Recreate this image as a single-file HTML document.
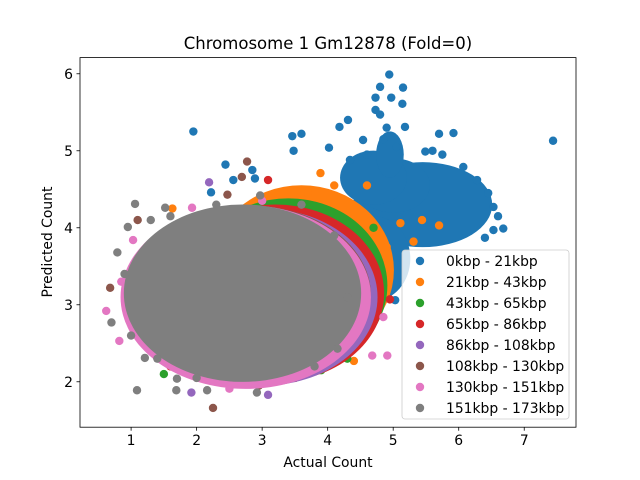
<!DOCTYPE html>
<html><head><meta charset="utf-8">
<style>
body{margin:0;background:#fff;}
svg{display:block;font-family:"DejaVu Sans","Liberation Sans",sans-serif;}
</style></head>
<body>
<svg id="chart" width="640" height="480" viewBox="0 0 640 480">
<rect width="640" height="480" fill="#fff"/>
<g id="marks"></g>
<g id="axes"></g>
<g id="legend"></g>
</svg>
<script>
const seriesNames = ["0kbp - 21kbp","21kbp - 43kbp","43kbp - 65kbp","65kbp - 86kbp","86kbp - 108kbp","108kbp - 130kbp","130kbp - 151kbp","151kbp - 173kbp"];
const colors = ["#1f77b4","#ff7f0e","#2ca02c","#d62728","#9467bd","#8c564b","#e377c2","#7f7f7f"];
const xTicks = [1,2,3,4,5,6,7];
const yTicks = [2,3,4,5,6];
// dense cores per series: [cx, cy, rx, ry] in data units
const core0 = [[5.45,4.3,1.0,0.5],[4.7,3.6,0.5,0.5],[5.0,4.55,0.5,0.3],[4.7,4.65,0.45,0.3],[4.95,4.95,0.15,0.25]];
const core1 = [[3.6,3.45,1.35,1.05]];
const core2 = [[3.4,3.25,1.45,1.08]];
const core3 = [[3.2,3.15,1.6,1.1]];
const core4 = [[3.0,3.1,1.7,1.1]];
const core5 = [[2.8,3.12,1.8,1.12]];
const core6 = [[2.75,3.1,1.85,1.14]];
const core7 = [[2.7,3.15,1.75,1.1]];
// individual points per series: [x, y]
const pts0 = [[4.94,5.99],[4.80,5.83],[5.15,5.82],[4.97,5.69],[4.73,5.69],[5.14,5.61],[4.73,5.53],[4.80,5.47],[1.95,5.25],[7.44,5.13],[4.31,5.40],[4.18,5.31],[3.46,5.19],[3.60,5.22],[3.48,5.00],[5.70,5.22],[5.92,5.23],[4.02,5.04],[2.44,4.82],[2.85,4.75],[2.89,4.64],[2.56,4.62],[2.22,4.46],[6.68,3.99],[6.53,3.97],[6.40,3.87],[5.49,4.99],[5.18,5.31],[5.03,3.06],[6.53,4.27],[6.28,4.62],[6.07,4.79],[4.34,4.88],[4.54,5.14],[5.6,5.0],[5.75,4.95],[6.6,4.15],[6.45,4.45],[4.6,4.95],[4.9,5.3],[4.85,5.15],[5.05,5.05]];
const pts1 = [[3.89,4.71],[5.44,4.10],[5.70,4.03],[4.40,2.27],[1.63,4.25],[5.11,4.06],[5.31,3.82],[4.6,4.55],[4.1,4.55],[3.7,4.45],[4.8,3.4],[4.9,3.75],[4.3,2.55]];
const pts2 = [[4.5,3.1],[4.6,3.5],[4.3,2.3],[3.9,2.15],[3.6,2.1],[1.5,2.1],[4.45,3.9],[4.7,4.0]];
const pts3 = [[3.09,4.62],[4.95,3.07],[4.5,2.9],[4.1,2.4],[3.5,2.05],[1.6,2.2],[4.6,3.3]];
const pts4 = [[2.19,4.59],[1.92,1.86],[3.09,1.83],[4.6,2.9],[1.2,2.5],[4.4,2.65]];
const pts5 = [[2.77,4.86],[2.69,4.66],[0.68,3.22],[2.25,1.66],[2.47,4.43],[1.1,4.1],[4.25,3.2],[2.95,1.95]];
const pts6 = [[0.62,2.92],[0.82,2.53],[4.85,2.84],[4.68,2.34],[4.91,2.34],[2.50,1.91],[1.93,4.26],[1.03,3.84],[4.15,3.65],[0.85,3.3],[3.0,4.35]];
const pts7 = [[1.06,4.31],[1.09,1.89],[1.69,1.89],[1.70,2.04],[2.16,1.89],[0.79,3.68],[0.95,4.01],[1.52,4.26],[4.15,2.43],[1.21,2.31],[2.92,1.86],[2.97,4.42],[0.70,2.77],[1.3,4.1],[0.9,3.4],[1.0,2.6],[1.6,4.15],[2.3,4.3],[3.6,4.3],[4.1,3.9],[4.3,3.1],[3.8,2.2],[1.4,2.3],[2.0,2.05]];
const cores = [core0,core1,core2,core3,core4,core5,core6,core7];
const points = [pts0,pts1,pts2,pts3,pts4,pts5,pts6,pts7];

const L=80,R=576,T=57.6,B=427.2;
const xMin=0.22,xMax=7.79,yMin=1.41,yMax=6.21;
const sx=v=>L+(v-xMin)/(xMax-xMin)*(R-L);
const sy=v=>B-(v-yMin)/(yMax-yMin)*(B-T);
const kx=(R-L)/(xMax-xMin), ky=(B-T)/(yMax-yMin);
const NS="http://www.w3.org/2000/svg";
function mk(tag,parent){const e=document.createElementNS(NS,tag);parent.appendChild(e);return e;}
const marks=document.getElementById('marks');
for(let s=0;s<8;s++){
  const g=mk('g',marks);
  
  
  g.setAttribute('fill',colors[s]);
  for(const c of cores[s]){
    const e=mk('ellipse',g);
    
    
    e.setAttribute('cx',sx(c[0]));e.setAttribute('cy',sy(c[1]));
    e.setAttribute('rx',c[2]*kx+4);e.setAttribute('ry',c[3]*ky+4);
  }
  for(const p of points[s]){
    const c=mk('circle',g);
    
    
    c.setAttribute('cx',sx(p[0]));c.setAttribute('cy',sy(p[1]));c.setAttribute('r',4.2);
  }
}
const axes=document.getElementById('axes');
const frame=mk('rect',axes);


frame.setAttribute('x',L);frame.setAttribute('y',T);frame.setAttribute('width',R-L);frame.setAttribute('height',B-T);
frame.setAttribute('fill','none');frame.setAttribute('stroke','#000');frame.setAttribute('stroke-width','0.8');
for(const t of xTicks){
  const l=mk('line',axes);
  
  
  l.setAttribute('x1',sx(t));l.setAttribute('x2',sx(t));l.setAttribute('y1',B);l.setAttribute('y2',B+3.5);l.setAttribute('stroke','#000');l.setAttribute('stroke-width','0.8');
  const tx=mk('text',axes);
  
  
  tx.setAttribute('x',sx(t));tx.setAttribute('y',B+18);tx.setAttribute('text-anchor','middle');tx.setAttribute('font-size','13.9');
  tx.textContent=t;
}
for(const t of yTicks){
  const l=mk('line',axes);
  
  
  l.setAttribute('x1',L-3.5);l.setAttribute('x2',L);l.setAttribute('y1',sy(t));l.setAttribute('y2',sy(t));l.setAttribute('stroke','#000');l.setAttribute('stroke-width','0.8');
  const tx=mk('text',axes);
  
  
  tx.setAttribute('x',L-7);tx.setAttribute('y',sy(t)+5);tx.setAttribute('text-anchor','end');tx.setAttribute('font-size','13.9');
  tx.textContent=t;
}
const title=mk('text',axes);


title.setAttribute('x',328);title.setAttribute('y',49);title.setAttribute('text-anchor','middle');title.setAttribute('font-size','16.5');
title.textContent='Chromosome 1 Gm12878 (Fold=0)';
const xl=mk('text',axes);


xl.setAttribute('x',328);xl.setAttribute('y',467);xl.setAttribute('text-anchor','middle');xl.setAttribute('font-size','13.9');
xl.textContent='Actual Count';
const yl=mk('text',axes);


yl.setAttribute('transform','translate(52,242) rotate(-90)');yl.setAttribute('text-anchor','middle');yl.setAttribute('font-size','13.9');
yl.textContent='Predicted Count';
const lg=document.getElementById('legend');
const box=mk('rect',lg);


box.setAttribute('x',402);box.setAttribute('y',250);box.setAttribute('width',167);box.setAttribute('height',169);box.setAttribute('rx',3);
box.setAttribute('fill','rgba(255,255,255,0.8)');box.setAttribute('stroke','#ccc');box.setAttribute('stroke-width','0.8');
for(let s=0;s<8;s++){
  const y=261+s*21;
  const c=mk('circle',lg);
  
  
  c.setAttribute('cx',420);c.setAttribute('cy',y);c.setAttribute('r',4.2);c.setAttribute('fill',colors[s]);
  const t=mk('text',lg);
  
  
  t.setAttribute('x',446);t.setAttribute('y',y+5);t.setAttribute('font-size','13.9');
  t.textContent=seriesNames[s];
}
</script>
</body></html>
